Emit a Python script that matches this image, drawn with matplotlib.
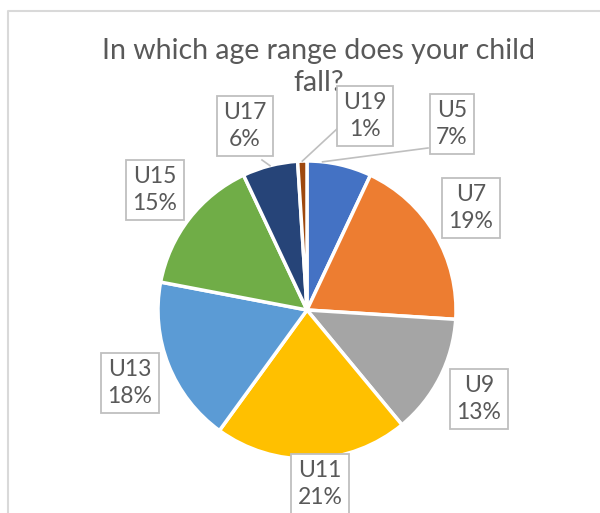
import matplotlib.pyplot as plt
import numpy as np

plt.rcParams['font.family'] = ['Lato', 'DejaVu Sans']

# data
categories = ['U5', 'U7', 'U9', 'U11', 'U13', 'U15', 'U17', 'U19']
percents = [7, 19, 13, 21, 18, 15, 6, 1]
colors = ['#4472C4', '#ED7D31', '#A5A5A5', '#FFC000', '#5B9BD5', '#70AD47', '#264478', '#9E480E']
title = 'In which age range does your child\nfall?'

W, H = 600, 513
fig = plt.figure(figsize=(W / 100, H / 100), dpi=100)
ax = fig.add_axes([0, 0, 1, 1])

# pie in pixel space (y flipped so image rows read top-down)
cx, cy, r = 307, H - 310, 149
wedges, _ = ax.pie(percents, colors=colors, startangle=90, counterclock=False,
                   radius=r, center=(cx, cy),
                   wedgeprops=dict(edgecolor='white', linewidth=2.5))
ax.set_xlim(0, W)
ax.set_ylim(0, H)
ax.axis('off')

# chart frame (cropped at right/bottom)
ax.plot([8, 8, W + 5], [-5, H - 11, H - 11], color='#D9D9D9', lw=1.5, clip_on=False)

ax.text(319, H - 67, title, ha='center', va='center', fontsize=20.5,
        color='#595959', linespacing=1.25)

# label box centres, pixels (x, row)
label_pos = {
    'U5': (452, 124), 'U7': (471, 208), 'U9': (479, 399), 'U11': (320, 484),
    'U13': (130, 383), 'U15': (155, 190), 'U17': (245, 126), 'U19': (365, 116),
}
# leader line end on the box edge
leader_end = {'U5': (428, 148), 'U19': (338, 128), 'U17': (262, 160)}

for w, cat, p in zip(wedges, categories, percents):
    x, row = label_pos[cat]
    if cat in leader_end:
        ang = np.deg2rad((w.theta1 + w.theta2) / 2)
        if cat == 'U5':
            ang = np.deg2rad(w.theta2 - 6)
        sx, sy = cx + r * np.cos(ang), cy + r * np.sin(ang)
        ex, erow = leader_end[cat]
        ax.plot([sx, ex], [sy, H - erow], color='#BFBFBF', lw=1.2, zorder=3)
    ax.text(x, H - row, f'{cat}\n{p}%', ha='center', va='center', fontsize=16.5,
            color='#595959', linespacing=1.3, zorder=4,
            bbox=dict(boxstyle='square,pad=0.28', fc='white', ec='#BFBFBF', lw=1.3))

fig.savefig('out.png', dpi=100)
